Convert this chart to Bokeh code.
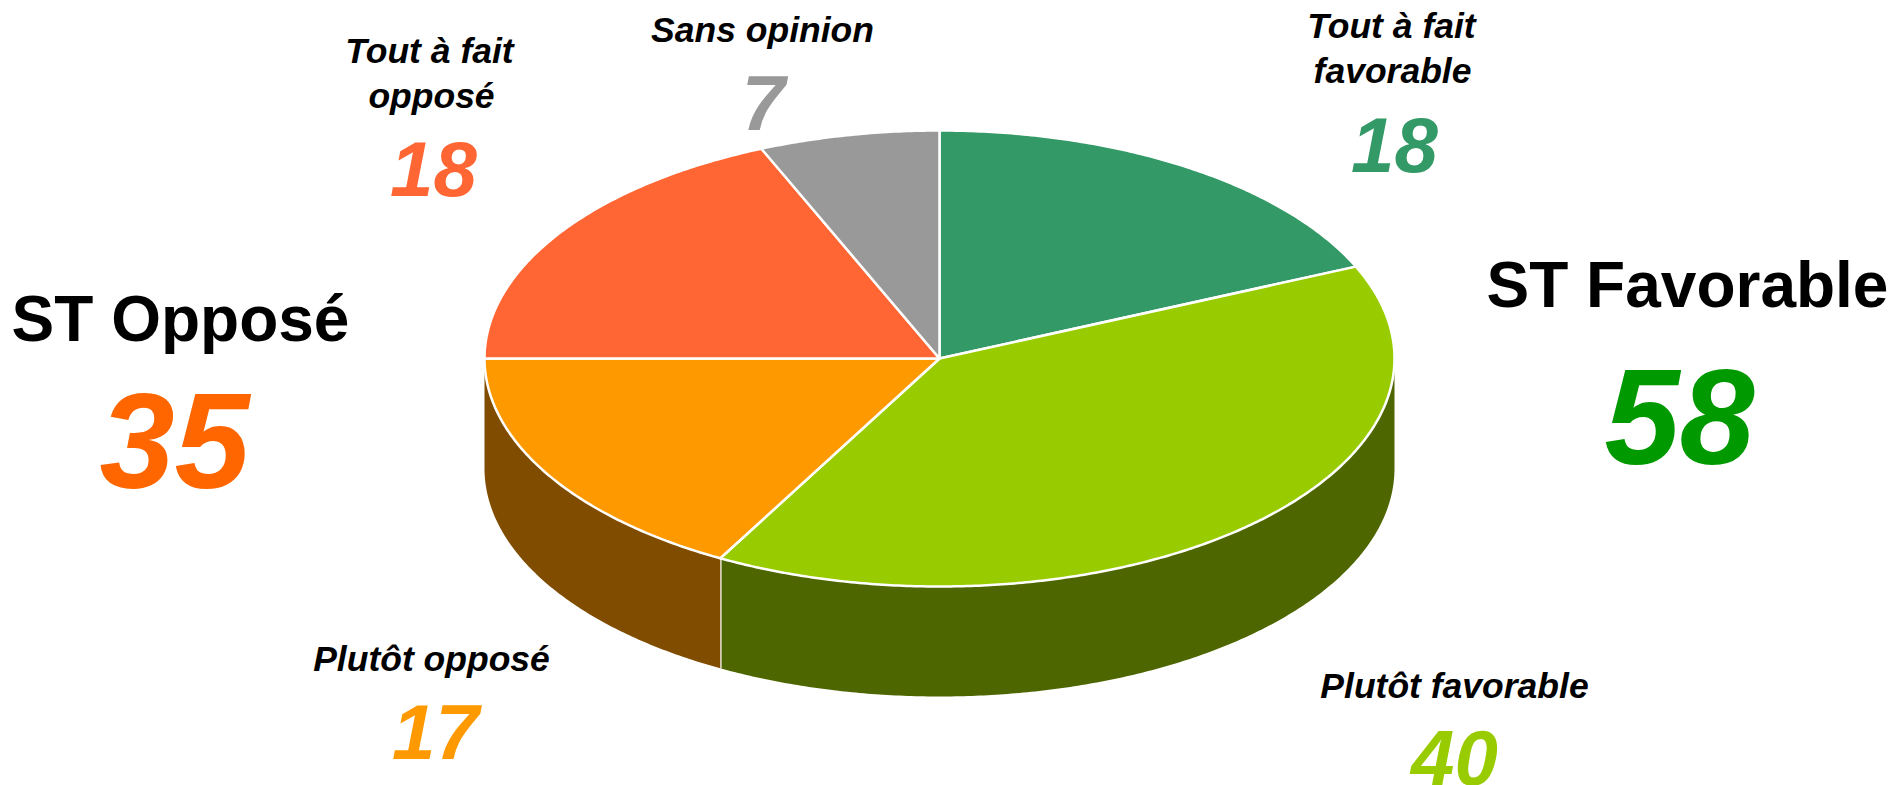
import numpy as np
from bokeh.plotting import figure
from bokeh.models import Range1d
from bokeh.core.properties import value
from bokeh.embed import file_html
from bokeh.resources import INLINE

# --- data ---
categories = ["Tout à fait favorable", "Plutôt favorable", "Plutôt opposé", "Tout à fait opposé", "Sans opinion"]
values = [18, 40, 17, 18, 7]                 # printed labels
slice_shares = [18.4, 39.6, 17.0, 18.6, 6.4]  # slice sizes
top_colors = ["#339966", "#99CC00", "#FF9900", "#FF6633", "#999999"]
wall_colors = ["#1A4D33", "#4D6600", "#804C00", "#803319", "#4D4D4D"]
total_labels = ["ST Favorable", "ST Opposé"]
total_values = ["58", "35"]
total_colors = ["#009900", "#FF6600"]

# --- layout (page pixels) ---
CX, CY, RX, RY, DEPTH = 939, 358, 455, 228, 110
FONT = "Liberation Sans"
BASE_K = 0.34  # baseline correction as a share of font size

p = figure(width=1893, height=785, output_backend="svg", toolbar_location=None,
           x_range=Range1d(0, 1893), y_range=Range1d(785, 0),
           min_border=0, outline_line_color=None, background_fill_color="white")
p.axis.visible = False
p.grid.visible = False


def rim(a0, a1, dy=0.0):
    n = max(2, int(abs(a1 - a0)) * 2)
    t = np.radians(np.linspace(a0, a1, n))
    return CX + RX * np.sin(t), CY + dy - RY * np.cos(t)


cum = np.concatenate([[0], np.cumsum(slice_shares)]) / sum(slice_shares) * 360.0

# side walls (only the front half of the pie shows)
for i in range(len(slice_shares)):
    a0, a1 = max(cum[i], 90.0), min(cum[i + 1], 270.0)
    if a1 <= a0:
        continue
    xt, yt = rim(a0, a1)
    xb, yb = rim(a1, a0, DEPTH)
    p.patch(np.r_[xt, xb].tolist(), np.r_[yt, yb].tolist(), fill_color=wall_colors[i], line_color=None)
    if 90.0 < cum[i + 1] < 270.0:
        xe, ye = rim(cum[i + 1], cum[i + 1])
        p.line([xe[0], xe[0]], [ye[0], ye[0] + DEPTH], line_color="white", line_width=2.5)

# top face
for i in range(len(slice_shares)):
    xt, yt = rim(cum[i], cum[i + 1])
    p.patch(np.r_[CX, xt].tolist(), np.r_[CY, yt].tolist(), fill_color=top_colors[i],
            line_color="white", line_width=2.5, line_join="round")


def label(text, x, y, size, color="black", italic=True):
    p.text(x=[x], y=[y - BASE_K * size], text=[text], text_font=value(FONT), text_font_size=f"{size}px",
           text_font_style="bold italic" if italic else "bold", text_color=color,
           text_align="center", text_baseline="alphabetic")


small, num = 35.5, 78
# slice labels
label("Tout à fait", 1391, 38, small); label("favorable", 1392, 83, small)
label(str(values[0]), 1394, 171, num, top_colors[0])
label("Plutôt favorable", 1454, 698, small)
label(str(values[1]), 1454, 784, num, top_colors[1])
label("Plutôt opposé", 431, 671, small)
label(str(values[2]), 435, 758, num, top_colors[2])
label("Tout à fait", 429, 63, small); label("opposé", 431, 108, small)
label(str(values[3]), 433, 195, num, top_colors[3])
label("Sans opinion", 762, 42, small)
label(str(values[4]), 763, 129, num, top_colors[4])
# totals
label(total_labels[0], 1687, 306, 64, italic=False)
label(total_values[0], 1679, 462, 135, total_colors[0])
label(total_labels[1], 180, 340, 64, italic=False)
label(total_values[1], 174, 486, 135, total_colors[1])

open("out.html", "w").write(file_html(p, INLINE))
